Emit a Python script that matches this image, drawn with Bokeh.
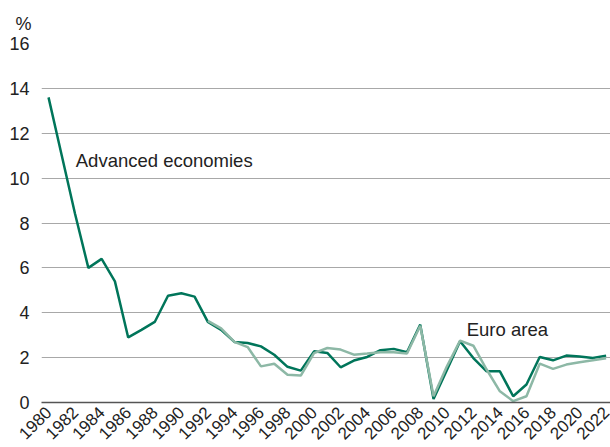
import math
from bokeh.plotting import figure
from bokeh.models import FixedTicker, Range1d, Title, ColumnDataSource
from bokeh.core.properties import value
from bokeh.embed import file_html
from bokeh.resources import INLINE

years = list(range(1980, 2023))
advanced = [13.6, 11.0, 8.4, 6.0, 6.4, 5.4, 2.9, 3.24, 3.59, 4.76, 4.87, 4.72,
            3.59, 3.24, 2.7, 2.65, 2.5, 2.13, 1.59, 1.42, 2.28, 2.21, 1.57, 1.87,
            2.03, 2.33, 2.39, 2.24, 3.47, 0.16, 1.44, 2.73, 1.98, 1.39, 1.39, 0.28,
            0.8, 2.03, 1.88, 2.09, 2.05, 1.98, 2.09]
euro_years = list(range(1992, 2023))
euro = [3.64, 3.3, 2.7, 2.47, 1.61, 1.73, 1.24, 1.2, 2.2, 2.43, 2.36, 2.13,
        2.18, 2.24, 2.24, 2.18, 3.42, 0.28, 1.6, 2.76, 2.53, 1.47, 0.5, 0.06,
        0.28, 1.73, 1.5, 1.69, 1.79, 1.88, 1.97]
x_ticks = list(range(1980, 2023, 2))
y_ticks = list(range(0, 17, 2))
labels = ["Advanced economies", "Euro area"]
label_x = [1982.05, 2011.5]
label_y = [10.8, 3.24]

FONT = "Liberation Sans"
DARK = "#00755A"
LIGHT = "#8DB8A6"

p = figure(width=610, height=447, output_backend="svg", toolbar_location=None,
           x_range=Range1d(1979.47, 2022.33), y_range=Range1d(0, 16),
           min_border_left=41, min_border_right=0, min_border_top=43,
           min_border_bottom=44)
p.outline_line_color = None
p.background_fill_color = "white"
p.border_fill_color = "white"

p.add_layout(Title(text="%", align="left", offset=-26, text_font=FONT,
                   text_font_size="18px", text_font_style="normal",
                   text_color="#222222", standoff=20), "above")

p.line(years, advanced, line_color=DARK, line_width=2.5)
p.line(euro_years, euro, line_color=LIGHT, line_width=2.5)

src = ColumnDataSource(dict(x=label_x, y=label_y, t=labels))
p.text(x="x", y="y", text="t", source=src, text_font=value(FONT),
       text_font_size="18.5px", text_color="#222222", text_baseline="middle",
       text_align="left")

p.xaxis.ticker = FixedTicker(ticks=x_ticks)
p.yaxis.ticker = FixedTicker(ticks=y_ticks)
p.xaxis.major_label_orientation = math.pi / 4
for ax in (p.xaxis, p.yaxis):
    ax.major_tick_line_color = None
    ax.minor_tick_line_color = None
    ax.major_label_text_font = FONT
    ax.major_label_text_color = "#222222"
p.xaxis.major_label_text_font_size = "17px"
p.yaxis.major_label_text_font_size = "18px"
p.yaxis.axis_line_color = None
p.xaxis.axis_line_color = "#555555"
p.xaxis.axis_line_width = 1.5
p.yaxis.major_label_standoff = 6
p.xaxis.major_label_standoff = 1
p.xgrid.grid_line_color = None
p.ygrid.grid_line_color = "#a8a8a8"
p.ygrid.grid_line_width = 1.2

open("out.html", "w").write(file_html(p, INLINE))
